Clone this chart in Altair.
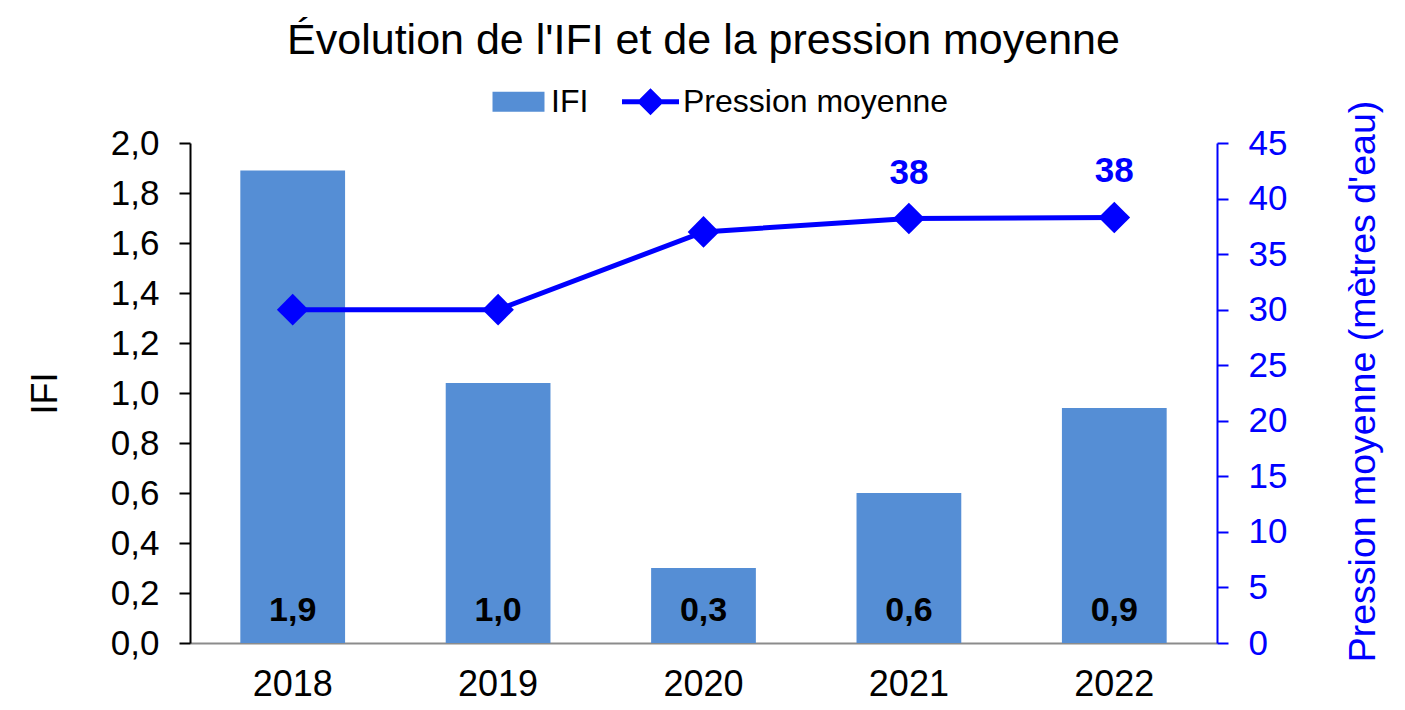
import altair as alt
import pandas as pd

annees = ["2018", "2019", "2020", "2021", "2022"]
ifi = [1.89, 1.04, 0.30, 0.60, 0.94]
pression = [30.0, 30.0, 37.0, 38.2, 38.3]
etiquettes_pression = ["", "", "", "38", "38"]
series = ["IFI", "Pression moyenne"]
couleurs = ["#558ED5", "#0000FF"]

df = pd.DataFrame({
    "annee": annees,
    "ifi": ifi,
    "pression": pression,
    "etiq": etiquettes_pression,
})
df_leg = pd.DataFrame({"serie": series})

FONT = "Liberation Sans"

x_enc = alt.X(
    "annee:N",
    sort=annees,
    scale=alt.Scale(paddingInner=0.49, paddingOuter=0.245),
    axis=alt.Axis(
        title=None, labelAngle=0, ticks=False, labelFontSize=36,
        labelFont=FONT, labelColor="black", labelPadding=24,
        domainColor="#8C8C8C", domainWidth=2,
    ),
)

y_left_axis = alt.Axis(
    values=[0, 0.2, 0.4, 0.6, 0.8, 1.0, 1.2, 1.4, 1.6, 1.8, 2.0],
    labelExpr="replace(format(datum.value, '.1f'), '.', ',')",
    labelFontSize=35, labelFont=FONT, labelColor="black", labelPadding=20,
    domainColor="black", domainWidth=2, tickColor="black", tickWidth=2,
    tickSize=11, grid=False, title="IFI", titleFontSize=36, titleFont=FONT,
    titleFontWeight="normal", titleColor="black", titlePadding=46,
)
y_left_scale = alt.Scale(domain=[0, 2], nice=False, zero=True)

bars = alt.Chart(df).mark_bar(color=couleurs[0]).encode(
    x=x_enc,
    y=alt.Y("ifi:Q", scale=y_left_scale, axis=y_left_axis),
)

bar_text = alt.Chart(df).transform_calculate(
    lab="replace(format(datum.ifi, '.1f'), '.', ',')",
    zero="0",
).mark_text(
    font=FONT, fontSize=34, fontWeight="bold", color="black",
    baseline="middle", dy=-32,
).encode(
    x=x_enc,
    y=alt.Y("zero:Q", scale=y_left_scale, axis=y_left_axis),
    text="lab:N",
)

y_right_axis = alt.Axis(
    orient="right", values=list(range(0, 50, 5)),
    labelFontSize=35, labelFont=FONT, labelColor="#0000FF", labelPadding=20,
    domainColor="#0000FF", domainWidth=2, tickColor="#0000FF", tickWidth=2,
    tickSize=11, grid=False, title="Pression moyenne (mètres d'eau)",
    titleFontSize=37.5, titleFont=FONT, titleFontWeight="normal",
    titleColor="#0000FF", titleAngle=270, titleBaseline="top",
    titlePadding=58, titleY=238,
)
y_right_scale = alt.Scale(domain=[0, 45], nice=False)

line = alt.Chart(df).mark_line(color="#0000FF", strokeWidth=5).encode(
    x=x_enc,
    y=alt.Y("pression:Q", scale=y_right_scale, axis=y_right_axis),
)
points = alt.Chart(df).mark_point(
    shape="diamond", filled=True, color="#0000FF", size=1000, opacity=1,
).encode(
    x=x_enc,
    y=alt.Y("pression:Q", scale=y_right_scale, axis=y_right_axis),
)
line_text = alt.Chart(df).transform_filter("datum.etiq != ''").mark_text(
    font=FONT, fontSize=35, fontWeight="bold", color="#0000FF",
    baseline="middle", dy=-46,
).encode(
    x=x_enc,
    y=alt.Y("pression:Q", scale=y_right_scale, axis=y_right_axis),
    text="etiq:N",
)

rect_path = "M-0.912,-0.351L0.912,-0.351L0.912,0.351L-0.912,0.351Z"
line_path = ("M-1,-0.088L1,-0.088L1,0.088L-1,0.088Z "
             "M0,-0.474L0.474,0L0,0.474L-0.474,0Z")

leg = alt.Legend(
    title=None, orient="none", legendX=300, legendY=-70,
    direction="horizontal", labelFontSize=32, labelFont=FONT,
    labelColor="black", labelLimit=500, symbolSize=3249,
    symbolStrokeWidth=0, symbolOpacity=1, labelOffset=4,
    columnPadding=33, padding=0,
)

legend_layer = alt.Chart(df_leg).mark_point(filled=True, opacity=0).encode(
    color=alt.Color(
        "serie:N",
        scale=alt.Scale(domain=series, range=couleurs),
        legend=leg,
    ),
    shape=alt.Shape(
        "serie:N",
        scale=alt.Scale(domain=series, range=[rect_path, line_path]),
        legend=leg,
    ),
)

left = alt.layer(bars, bar_text)
right = alt.layer(line, points, line_text)

chart = alt.layer(left, right, legend_layer).resolve_scale(
    y="independent"
).properties(
    width=1027,
    height=500,
    title=alt.Title(
        "Évolution de l'IFI et de la pression moyenne",
        fontSize=43, font=FONT, fontWeight="normal", color="black",
        anchor="middle", offset=10,
    ),
    autosize=alt.AutoSizeParams(type="none"),
    padding={"left": 182, "top": 135, "right": 180, "bottom": 59},
).configure_view(stroke=None)

chart.save("out.html", embed_options={"renderer": "svg", "actions": False})
